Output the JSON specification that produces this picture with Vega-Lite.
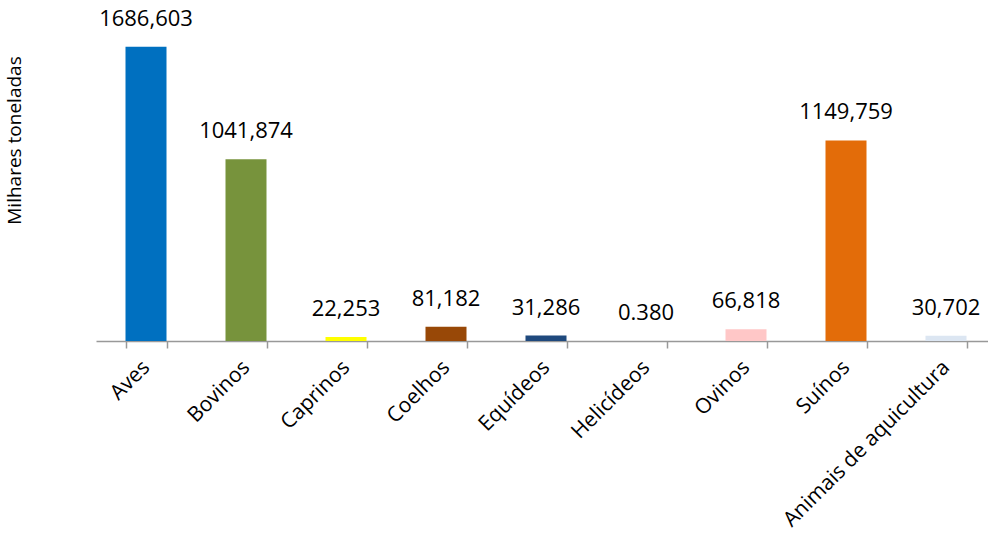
{
  "$schema": "https://vega.github.io/schema/vega-lite/v6.json",
  "width": 900,
  "height": 314,
  "autosize": {"type": "none"},
  "padding": {"left": 96, "top": 27, "right": 0, "bottom": 210},
  "background": "white",
  "config": {"view": {"stroke": null}, "font": "Open Sans"},
  "data": {
    "values": [
      {"categoria": "Aves", "valor": 1686.603, "rotulo": "1686,603"},
      {"categoria": "Bovinos", "valor": 1041.874, "rotulo": "1041,874"},
      {"categoria": "Caprinos", "valor": 22.253, "rotulo": "22,253"},
      {"categoria": "Coelhos", "valor": 81.182, "rotulo": "81,182"},
      {"categoria": "Equídeos", "valor": 31.286, "rotulo": "31,286"},
      {"categoria": "Helicídeos", "valor": 0.38, "rotulo": "0.380"},
      {"categoria": "Ovinos", "valor": 66.818, "rotulo": "66,818"},
      {"categoria": "Suínos", "valor": 1149.759, "rotulo": "1149,759"},
      {"categoria": "Animais de aquicultura", "valor": 30.702, "rotulo": "30,702"}
    ]
  },
  "encoding": {
    "x": {
      "field": "categoria",
      "type": "nominal",
      "sort": null,
      "scale": {"paddingInner": 0.59, "paddingOuter": 0.295},
      "axis": {
        "title": null,
        "labelAngle": -45,
        "labelAlign": "right",
        "labelBaseline": "middle",
        "labelFontSize": 21,
        "labelColor": "#000000",
        "labelPadding": 16,
        "labelFont": "Open Sans",
        "labelLimit": 400,
        "domainColor": "#999999",
        "domainWidth": 1.5,
        "tickColor": "#999999",
        "tickWidth": 1.5,
        "tickSize": 7,
        "tickBand": "extent",
        "grid": false
      }
    },
    "y": {
      "field": "valor",
      "type": "quantitative",
      "scale": {"domain": [0, 1800]},
      "axis": {
        "title": "Milhares toneladas",
        "titleFontSize": 19,
        "titleFont": "Open Sans",
        "titleFontWeight": "normal",
        "titleColor": "#000000",
        "titleX": -72,
        "titleY": 113,
        "titleAngle": -90,
        "domain": false,
        "ticks": false,
        "labels": false,
        "grid": false
      }
    }
  },
  "layer": [
    {
      "mark": {"type": "bar"},
      "encoding": {
        "color": {
          "field": "categoria",
          "type": "nominal",
          "legend": null,
          "scale": {
            "domain": ["Aves", "Bovinos", "Caprinos", "Coelhos", "Equídeos", "Helicídeos", "Ovinos", "Suínos", "Animais de aquicultura"],
            "range": ["#0070C0", "#77933C", "#FFFF00", "#984807", "#1F497D", "#7F7F7F", "#FFC7C7", "#E36C09", "#DCE6F2"]
          }
        }
      }
    },
    {
      "mark": {"type": "text", "dy": -28, "baseline": "middle", "fontSize": 22, "color": "#000000", "font": "Open Sans"},
      "encoding": {"text": {"field": "rotulo"}}
    }
  ]
}
